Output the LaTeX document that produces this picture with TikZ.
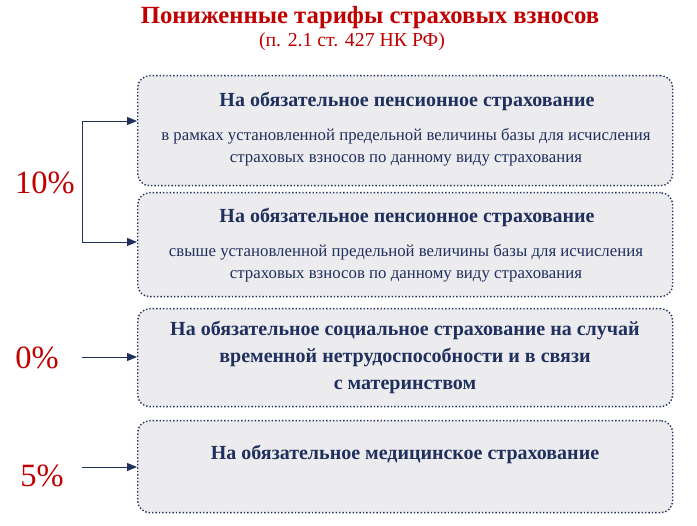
\documentclass[tikz,border=0pt]{standalone}
\usepackage{fontspec}
\setmainfont{Liberation Serif}
\usetikzlibrary{arrows.meta}
\definecolor{navy}{HTML}{1F2F5E}
\definecolor{tred}{HTML}{C00000}
\definecolor{boxfill}{HTML}{ECECEE}
\tikzset{
  panel/.style={draw=navy, line width=1.4pt, dotted, rounded corners=12pt, fill=boxfill, minimum width=535pt, anchor=north west, inner sep=0pt},
  head/.style={text=navy, font=\bfseries\fontsize{20}{24}\selectfont, align=center},
  body/.style={text=navy, font=\fontsize{16.8}{22}\selectfont, align=center},
  pct/.style={text=tred, font=\fontsize{32.5}{36}\selectfont},
  conn/.style={draw=navy, line width=0.9pt, -{Triangle[length=10pt,width=8pt]}}
}
\begin{document}
\begin{tikzpicture}[x=1pt,y=-1pt]
\useasboundingbox (0,0) rectangle (697,526);
\node[text=tred, font=\bfseries\fontsize{24.7}{28}\selectfont] (title) at (370,18) {Пониженные тарифы страховых взносов};
\node[text=tred, font=\fontsize{19.8}{22}\selectfont] (sub) at (352,42) {(п. 2.1 ст. 427 НК РФ)};

\node[panel, minimum height=110pt] (b1) at (137,75) {};
\node[panel, minimum height=104pt] (b2) at (137,192) {};
\node[panel, minimum height=98pt] (b3) at (137,308) {};
\node[panel, minimum height=92pt] (b4) at (137,420) {};

\node[head] (h1) at (407,101) {На обязательное пенсионное страхование};
\node[body] (t1) at (406,147) {в рамках установленной предельной величины базы для исчисления\\страховых взносов по данному виду страхования};
\node[head] (h2) at (407,217) {На обязательное пенсионное страхование};
\node[body] (t2) at (406,263) {свыше установленной предельной величины базы для исчисления\\страховых взносов по данному виду страхования};
\node[head, font=\bfseries\fontsize{20}{27}\selectfont] (h3) at (405,357) {На обязательное социальное страхование на случай\\временной нетрудоспособности и в связи\\с материнством};
\node[head] (h4) at (405,454) {На обязательное медицинское страхование};

\node[pct] (p10) at (45,183) {10\%};
\node[pct] (p0) at (37,358) {0\%};
\node[pct] (p5) at (42,476) {5\%};

\coordinate (k1) at (82,121);
\coordinate (k2) at (82,242);
\coordinate (k3) at (82,357);
\coordinate (k4) at (82,467);
\draw[navy, line width=0.9pt] (k1) -- (k2);
\draw[conn] (k1) -- (b1.west |- k1);
\draw[conn] (k2) -- (b2.west |- k2);
\draw[conn] (k3) -- (b3.west |- k3);
\draw[conn] (k4) -- (b4.west |- k4);
\end{tikzpicture}
\end{document}
